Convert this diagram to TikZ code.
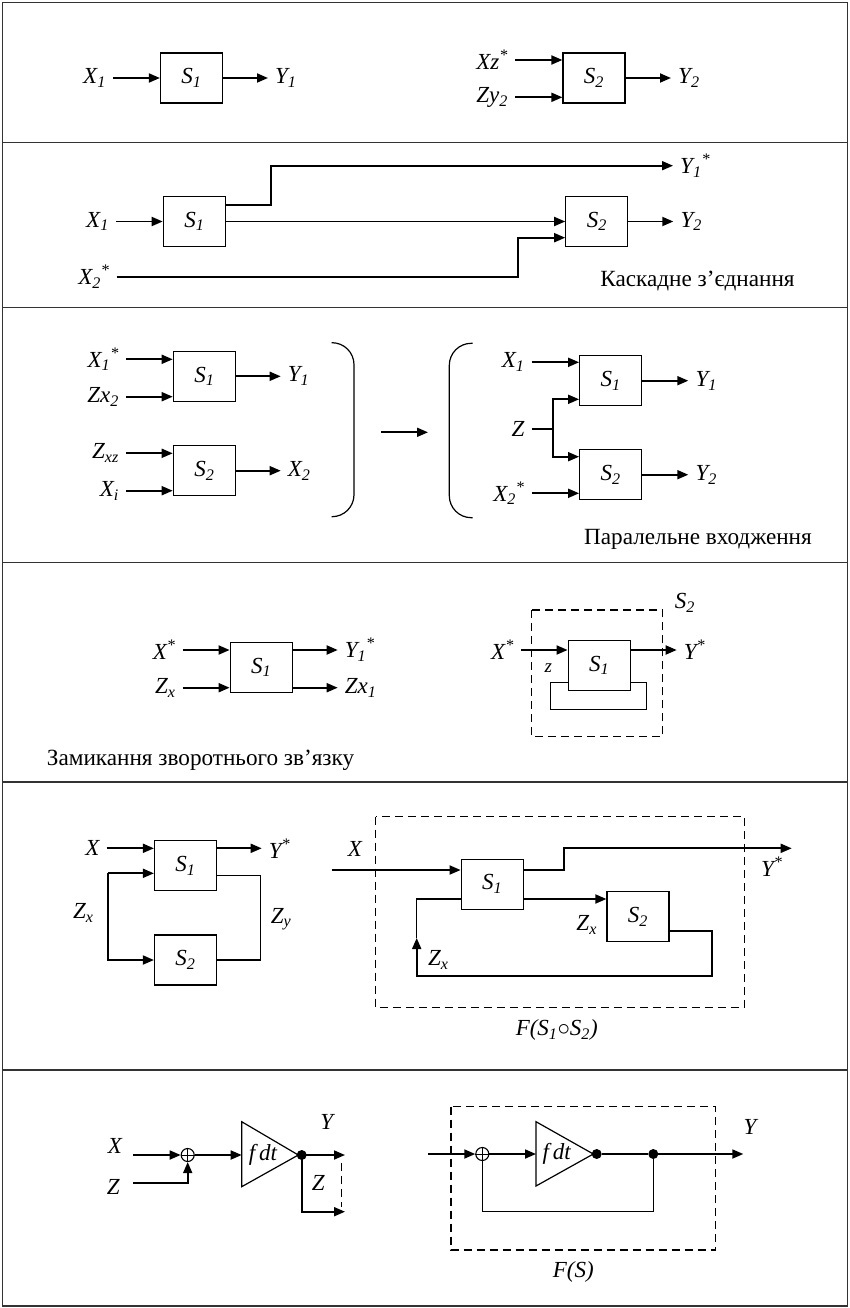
\documentclass[tikz,border=0pt]{standalone}
\usepackage{fontspec}
\setmainfont{Liberation Serif}
\usetikzlibrary{arrows.meta}
\tikzset{
	blk/.style={draw, line width=1.2pt, fill=white, minimum width=62pt, minimum height=50pt, inner sep=0pt, font=\fontsize{23}{26}\selectfont\itshape},
	lbl/.style={inner xsep=7pt, inner ysep=1pt, font=\fontsize{23}{26}\selectfont\itshape},
	captxt/.style={inner sep=0pt, font=\fontsize{23.2}{27}\selectfont},
	sig/.style={line width=1.8pt, -{Triangle[length=11pt,width=9pt]}},
	wire/.style={line width=1.2pt},
	divline/.style={line width=1.6pt, draw=black!80},
	dbox/.style={line width=1.2pt, dash pattern=on 8pt off 5pt},
	jdot/.style={circle, fill, inner sep=0pt, minimum size=10pt},
	summer/.style={circle, draw, line width=1.1pt, fill=white, inner sep=0pt, minimum size=13pt},
}
\newcommand{\plusin}[1]{\draw[line width=1pt] (#1.north) -- (#1.south) (#1.west) -- (#1.east);}

\begin{document}
\begin{tikzpicture}[x=1pt, y=-1pt]
			\useasboundingbox (0,0) rectangle (850,1308);
			%%%%% FRAME %%%%%
			\draw[divline] (2.5,2.5) rectangle (847.5,1306);
			\foreach \yy in {142.7, 307.3, 562.3, 781.7, 1069.7}
				\draw[divline] (2.5,\yy) -- (847.5,\yy);
			
			%%%%% ROW 1 %%%%%
			\node[blk] (s1a) at (191.5,78) {S\textsubscript{1}};
			\node[lbl, anchor=east] (x1a) at (113,78) {X\textsubscript{1}};
			\node[lbl, anchor=west] (y1a) at (268,78) {Y\textsubscript{1}};
			\draw[sig] (x1a.east) -- (s1a.west);
			\draw[sig] (s1a.east) -- (y1a.west);
			
			\node[blk] (s2a) at (594,78) {S\textsubscript{2}};
			\node[lbl, anchor=east] (xza) at (515,60) {Xz\textsuperscript{*}};
			\node[lbl, anchor=east] (zya) at (515,97.3) {Zy\textsubscript{2}};
			\node[lbl, anchor=west] (y2a) at (671,78) {Y\textsubscript{2}};
			\draw[sig] (xza.east) -- (xza.east -| s2a.west);
			\draw[sig] (zya.east) -- (zya.east -| s2a.west);
			\draw[sig] (s2a.east) -- (y2a.west);
			
			%%%%% ROW 2 %%%%%
			\node[blk] (s1b) at (194.3,221.5) {S\textsubscript{1}};
			\node[blk] (s2b) at (596.8,221.5) {S\textsubscript{2}};
			\node[lbl, anchor=east] (x1b) at (116,221.5) {X\textsubscript{1}};
			\node[lbl, anchor=east] (x2b) at (116.7,277) {X\textsubscript{2}\textsuperscript{*}};
			\node[lbl, anchor=west] (y1b) at (673,165.7) {Y\textsubscript{1}\textsuperscript{*}};
			\node[lbl, anchor=west] (y2b) at (673.3,221.5) {Y\textsubscript{2}};
			\node[captxt] (capb) at (697.5,281) {Каскадне з’єднання};
			\coordinate (kb) at (270.7,205);
			\coordinate (kx) at (518.3,237.7);
			\draw[sig] (x1b.east) -- (s1b.west);
			\draw[sig] (s1b) -- (s2b);
			\draw[sig] (kb -| s1b.east) -- (kb) |- (y1b.west);
			\draw[sig] (x2b.east) -| (kx) -- (kx -| s2b.west);
			\draw[sig] (s2b.east) -- (y2b.west);
			
			%%%%% ROW 3 %%%%%
			\node[blk] (s1c) at (204.3,376.3) {S\textsubscript{1}};
			\node[blk] (s2c) at (204.3,470.7) {S\textsubscript{2}};
			\node[lbl, anchor=east] (x1c) at (126,359.3) {X\textsubscript{1}\textsuperscript{*}};
			\node[lbl, anchor=east] (zxc) at (126,396.7) {Zx\textsubscript{2}};
			\node[lbl, anchor=east] (zzc) at (126,453.3) {Z\textsubscript{xz}};
			\node[lbl, anchor=east] (xic) at (126,490.7) {X\textsubscript{i}};
			\node[lbl, anchor=west] (y1c) at (280.7,376.3) {Y\textsubscript{1}};
			\node[lbl, anchor=west] (x2c) at (280.7,470.7) {X\textsubscript{2}};
			\draw[sig] (x1c.east) -- (x1c.east -| s1c.west);
			\draw[sig] (zxc.east) -- (zxc.east -| s1c.west);
			\draw[sig] (zzc.east) -- (zzc.east -| s2c.west);
			\draw[sig] (xic.east) -- (xic.east -| s2c.west);
			\draw[sig] (s1c.east) -- (y1c.west);
			\draw[sig] (s2c.east) -- (x2c.west);
			\draw[wire, rounded corners=22pt] (331.7,342.7) -- (354,342.7) -- (354,516.7) -- (331.7,516.7);
			
			\coordinate (ma) at (381,432.3);
			\coordinate (mb) at (428,432.3);
			\draw[sig] (ma) -- (mb);
			
			\draw[wire, rounded corners=22pt] (472.7,343.3) -- (449.3,343.3) -- (449.3,517.7) -- (472.7,517.7);
			\node[blk] (s1d) at (610.7,380.7) {S\textsubscript{1}};
			\node[blk] (s2d) at (610.7,474.7) {S\textsubscript{2}};
			\node[lbl, anchor=east] (x1d) at (531.7,362.3) {X\textsubscript{1}};
			\node[lbl, anchor=east] (zd) at (531.7,429) {Z};
			\node[lbl, anchor=east] (x2d) at (531.7,493.3) {X\textsubscript{2}\textsuperscript{*}};
			\node[lbl, anchor=west] (y1d) at (688.3,380.7) {Y\textsubscript{1}};
			\node[lbl, anchor=west] (y2d) at (688.3,474.7) {Y\textsubscript{2}};
			\node[captxt] (capc) at (698,539) {Паралельне входження};
			\coordinate (jz) at (553.3,429);
			\draw[sig] (x1d.east) -- (x1d.east -| s1d.west);
			\draw[wire] (zd.east) -- (jz);
			\draw[sig] (jz) |- (s1d.west |- 0,399.3);
			\draw[sig] (jz) |- (s2d.west |- 0,456.7);
			\draw[sig] (x2d.east) -- (x2d.east -| s2d.west);
			\draw[sig] (s1d.east) -- (y1d.west);
			\draw[sig] (s2d.east) -- (y2d.west);
			
			%%%%% ROW 4 %%%%%
			\node[blk] (s1e) at (261.2,667.5) {S\textsubscript{1}};
			\node[lbl, anchor=east] (xse) at (182.7,650) {X\textsuperscript{*}};
			\node[lbl, anchor=east] (zxe) at (182.7,687.7) {Z\textsubscript{x}};
			\node[lbl, anchor=west] (y1e) at (337.7,650) {Y\textsubscript{1}\textsuperscript{*}};
			\node[lbl, anchor=west] (zx1e) at (337.7,687.7) {Zx\textsubscript{1}};
			\draw[sig] (xse.east) -- (xse.east -| s1e.west);
			\draw[sig] (zxe.east) -- (zxe.east -| s1e.west);
			\draw[sig] (y1e.west -| s1e.east) -- (y1e.west);
			\draw[sig] (zx1e.west -| s1e.east) -- (zx1e.west);
			\node[captxt, anchor=west] (cape) at (46.7,760) {Замикання зворотнього зв’язку};
			
			\draw[dbox] (531.7,610) rectangle (662.7,736.7);
			\node[lbl] (s2f) at (685,602.7) {S\textsubscript{2}};
			\node[blk] (s1f) at (599.2,665.4) {S\textsubscript{1}};
			\node[lbl, anchor=east] (xsf) at (521,650) {X\textsuperscript{*}};
			\node[lbl, anchor=west] (ysf) at (676.7,650) {Y\textsuperscript{*}};
			\node[lbl, font=\fontsize{19}{21}\selectfont\itshape] (zf) at (548.3,668.3) {z};
			\draw[sig] (xsf.east) -- (xsf.east -| s1f.west);
			\draw[sig] (ysf.west -| s1f.east) -- (ysf.west);
			\draw[wire] (s1f.west |- 0,682.7) -| (550.7,709.3) -| (646.7,682.7) -- (s1f.east |- 0,682.7);
			
			%%%%% ROW 5 %%%%%
			\node[blk] (s1g) at (185.5,865.7) {S\textsubscript{1}};
			\node[blk] (s2g) at (185.5,960) {S\textsubscript{2}};
			\node[lbl, anchor=east] (xg) at (106.7,848.3) {X};
			\node[lbl, anchor=west] (ysg) at (261.7,848.3) {Y\textsuperscript{*}};
			\node[lbl] (zxg) at (83.3,913.3) {Z\textsubscript{x}};
			\node[lbl] (zyg) at (281,919.3) {Z\textsubscript{y}};
			\coordinate (lz) at (108.3,873.3);
			\coordinate (rz) at (260.7,875.7);
			\draw[sig] (xg.east) -- (xg.east -| s1g.west);
			\draw[sig] (ysg.west -| s1g.east) -- (ysg.west);
			\draw[sig] (lz) -- (lz -| s1g.west);
			\draw[sig] (lz) |- (s2g.west);
			\draw[wire] (rz -| s1g.east) -- (rz) |- (s2g.east);
			
			\draw[dbox] (375.7,816.7) rectangle (744.3,1007.5);
			\node[blk] (s1h) at (492.2,884.2) {S\textsubscript{1}};
			\node[blk] (s2h) at (638,916.7) {S\textsubscript{2}};
			\node[lbl] (xh) at (355,849.3) {X};
			\node[lbl] (ysh) at (771.7,866.7) {Y\textsuperscript{*}};
			\node[lbl] (zxh) at (586.7,925) {Z\textsubscript{x}};
			\node[lbl] (zxf) at (438.3,960) {Z\textsubscript{x}};
			\node[lbl] (fsh) at (556.7,1030) {F(S\textsubscript{1}$\circ$S\textsubscript{2})};
			\coordinate (xin) at (331.7,870);
			\coordinate (kh) at (564.3,870);
			\coordinate (yout) at (791.7,848.3);
			\coordinate (fb) at (712.3,975.7);
			\coordinate (fl) at (416.7,975.7);
			\coordinate (fu) at (416.7,938);
			\draw[sig] (xin) -- (xin -| s1h.west);
			\draw[sig] (kh -| s1h.east) -- (kh) |- (yout);
			\draw[sig] (s1h.east |- 0,899) -- (s2h.west |- 0,899);
			\draw[sig] (s2h.east |- 0,930.7) -| (fb) -- (fl) -- (fu);
			\draw[wire] (fu) |- (s1h.west |- 0,899);
			
			%%%%% ROW 6 %%%%%
			\node[summer] (sum1) at (187.7,1155) {};
			\plusin{sum1}
			\node[lbl] (x6) at (115,1146) {X};
			\node[lbl] (z6) at (113.3,1187.3) {Z};
			\coordinate (xa6) at (133.3,1155);
			\coordinate (za6) at (133.3,1183.3);
			\coordinate (t1) at (241.7,1155);
			\draw[sig] (xa6) -- (sum1.west);
			\draw[sig] (za6) -| (sum1.south);
			\draw[wire] (241.7,1121.7) -- (298.3,1155) -- (241.7,1186.7) -- cycle;
			\node[lbl, inner sep=0pt] (f1) at (263,1155) {f\,dt};
			\draw[sig] (sum1.east) -- (t1);
			\node[jdot] (d1) at (301.7,1155) {};
			\node[lbl] (y6) at (326.7,1121.7) {Y};
			\node[lbl] (zz6) at (318.3,1183.3) {Z};
			\coordinate (ya6) at (345,1155);
			\coordinate (zb6) at (345,1211.7);
			\draw[sig] (d1.center) -- (ya6);
			\draw[sig] (d1.center) |- (zb6);
			\draw[dbox] (341.7,1163) -- (341.7,1207);
			
			\draw[dbox] (451,1106.7) rectangle (715.7,1250);
			\node[summer] (sum2) at (482.3,1154) {};
			\plusin{sum2}
			\coordinate (xb6) at (428.3,1154);
			\coordinate (t2) at (536,1154);
			\draw[sig] (xb6) -- (sum2.west);
			\draw[wire] (536,1121.7) -- (593.3,1154) -- (536,1186) -- cycle;
			\node[lbl, inner sep=0pt] (f2) at (556.7,1154) {f\,dt};
			\draw[sig] (sum2.east) -- (t2);
			\node[jdot] (d2a) at (596.7,1154) {};
			\node[jdot] (d2b) at (653.3,1154) {};
			\coordinate (yb6) at (743.3,1154);
			\coordinate (fb6) at (482.3,1211.7);
			\draw[line width=1.8pt] (d2a) -- (d2b);
			\draw[sig] (d2b.center) -- (yb6);
			\draw[wire] (d2b.center) |- (fb6) -- (sum2.south);
			\node[lbl] (y6b) at (750,1127.3) {Y};
			\node[lbl] (fs6) at (573.3,1271.7) {F(S)};
			
			%%%%% END %%%%%
\end{tikzpicture}
\end{document}
